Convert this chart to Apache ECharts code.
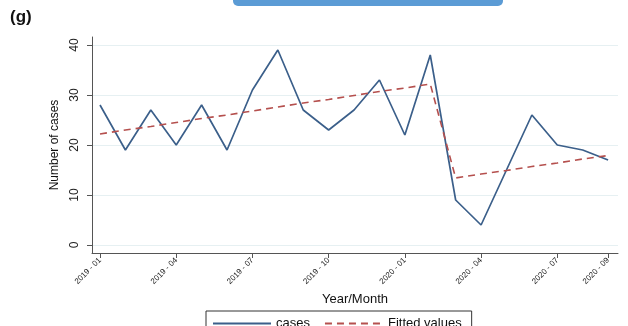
<!DOCTYPE html>
<html>
<head>
<meta charset="utf-8">
<script src="https://cdn.jsdelivr.net/npm/echarts@6/dist/echarts.min.js"></script>
<style>
  html, body { margin: 0; padding: 0; background: #fff; }
  #chart { width: 628px; height: 326px; }
</style>
</head>
<body>
<div id="chart"></div>
<script>
// Monthly periods, 2019-01 to 2020-09
const months = [
  "2019 - 01", "2019 - 02", "2019 - 03", "2019 - 04", "2019 - 05", "2019 - 06",
  "2019 - 07", "2019 - 08", "2019 - 09", "2019 - 10", "2019 - 11", "2019 - 12",
  "2020 - 01", "2020 - 02", "2020 - 03", "2020 - 04", "2020 - 05", "2020 - 06",
  "2020 - 07", "2020 - 08", "2020 - 09"
];
// Observed monthly case counts
const cases = [28, 19, 27, 20, 28, 19, 31, 39, 27, 23, 27, 33, 22, 38, 9, 4, 15, 26, 20, 19, 17];
// Segmented regression fitted values
const fitted = [22.2, 23.0, 23.7, 24.5, 25.3, 26.0, 26.8, 27.6, 28.4, 29.1, 29.9, 30.7, 31.4, 32.2,
                13.4, 14.2, 14.9, 15.7, 16.4, 17.2, 17.9];
// Labelled month positions on the time axis
const monthTicks = [0, 3, 6, 9, 12, 15, 18, 20];
const yTicks = [0, 10, 20, 30, 40];

const pairs = arr => arr.map((v, i) => [i, v]);
const FONT = 'Arial, "Liberation Sans", sans-serif';

const chart = echarts.init(document.getElementById('chart'), null, { renderer: 'canvas' });
chart.setOption({
  backgroundColor: '#ffffff',
  animation: false,
  graphic: [
    { type: 'rect', shape: { x: 233, y: -6, width: 270, height: 12, r: 5 },
      style: { fill: '#5b9bd5' } },
    { type: 'text', left: 10, top: 9,
      style: { text: '(g)', font: 'bold 17px ' + FONT, fill: '#111' } }
  ],
  grid: { left: 92, right: 10, top: 37, bottom: 73 },
  xAxis: {
    type: 'value',
    min: -0.315,
    max: 20.39,
    name: 'Year/Month',
    nameLocation: 'middle',
    nameGap: 39,
    nameTextStyle: { fontSize: 13, color: '#111', fontFamily: FONT },
    axisLine: { show: true, onZero: false, lineStyle: { color: '#555', width: 1 } },
    axisTick: { show: true, length: 5, customValues: monthTicks, lineStyle: { color: '#555' } },
    axisLabel: {
      customValues: monthTicks,
      rotate: 45,
      fontSize: 8,
      margin: 6,
      color: '#222',
      fontFamily: FONT,
      formatter: v => months[v]
    },
    splitLine: { show: false }
  },
  yAxis: {
    type: 'value',
    min: -1.6,
    max: 41.6,
    name: 'Number of cases',
    nameLocation: 'middle',
    nameGap: 25,
    nameTextStyle: { fontSize: 12, color: '#111', fontFamily: FONT },
    axisLine: { show: true, onZero: false, lineStyle: { color: '#555', width: 1 } },
    axisTick: { show: true, length: 5, customValues: yTicks, lineStyle: { color: '#555' } },
    axisLabel: {
      customValues: yTicks,
      rotate: 90,
      fontSize: 12,
      margin: 11,
      color: '#222',
      fontFamily: FONT
    },
    splitLine: { show: true, lineStyle: { color: '#e6f0f2', width: 1 } }
  },
  legend: {
    left: 206,
    top: 311,
    itemWidth: 58,
    itemHeight: 10,
    itemGap: 14,
    padding: [6, 10, 10, 6],
    borderColor: '#333',
    borderWidth: 1,
    itemStyle: { opacity: 0 },
    textStyle: { fontSize: 13, color: '#111', fontFamily: FONT },
    data: ['cases', 'Fitted values']
  },
  series: [
    {
      name: 'cases',
      type: 'line',
      data: pairs(cases),
      symbol: 'none',
      lineStyle: { color: '#3b5f8a', width: 1.7 },
      itemStyle: { color: '#3b5f8a' }
    },
    {
      name: 'Fitted values',
      type: 'line',
      data: pairs(fitted),
      symbol: 'none',
      lineStyle: { color: '#b5504e', width: 1.6, type: [7, 5] },
      itemStyle: { color: '#b5504e' }
    }
  ]
});
</script>
</body>
</html>
